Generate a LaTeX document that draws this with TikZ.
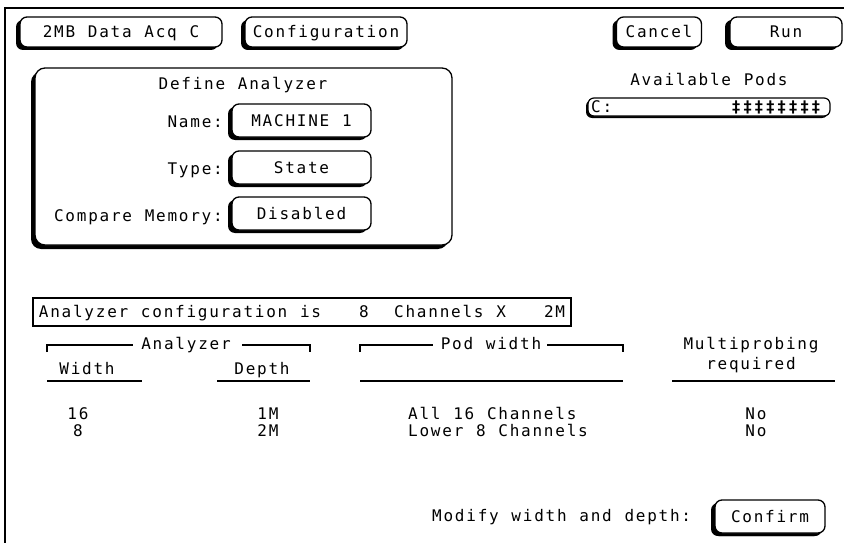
\documentclass[tikz,border=0pt]{standalone}
\usepackage{fontspec}
\usetikzlibrary{shadows}
% terminal-style monospaced face with wide character pitch
\newfontfamily\hpface[LetterSpace=11,WordSpace=1.115]{DejaVu Sans Mono}
\newcommand\hpfont{\hpface\fontsize{16}{19}\selectfont}

\begin{document}
\begin{tikzpicture}[x=1pt,y=-1pt,
  txt/.style={font=\hpfont, inner sep=0pt, anchor=base},
  btn/.style={draw, line width=1.3pt, fill=white, rounded corners=7pt,
    font=\hpfont, inner sep=0pt, text height=11.6pt, text depth=0pt,
    drop shadow={shadow xshift=-4pt, shadow yshift=-3pt, opacity=1, fill=black}},
  panel/.style={draw, line width=1.3pt, fill=white, rounded corners=10pt,
    inner sep=0pt,
    drop shadow={shadow xshift=-4pt, shadow yshift=-4pt, opacity=1, fill=black}},
  rule/.style={line width=1.3pt}
]
\useasboundingbox (0,0) rectangle (844,543);

% screen frame
\coordinate (fTL) at (5,8);
\coordinate (fTR) at (844,8);
\coordinate (fBL) at (5,543);
\draw[line width=1.5pt] (fTR) -- (fTL) -- (fBL);

% top row buttons
\node[btn, minimum width=202pt, minimum height=30pt] (acq) at (121,32) {2MB Data Acq C};
\node[btn, minimum width=162pt, minimum height=30pt,
      drop shadow={shadow xshift=-3pt, shadow yshift=-3pt, opacity=1, fill=black}] (cfg) at (326,32) {Configuration};
\node[btn, minimum width=85pt, minimum height=30pt] (cancel) at (659,32) {Cancel};
\node[btn, minimum width=112pt, minimum height=30pt,
      drop shadow={shadow xshift=-5pt, shadow yshift=-3pt, opacity=1, fill=black}] (run) at (786,32) {Run};

% available pods
\node[txt] (podsT) at (709,86) {Available Pods};
\node[draw, line width=1.2pt, fill=white, rounded corners=6pt, inner sep=0pt,
      minimum width=242pt, minimum height=18pt,
      drop shadow={shadow xshift=-2pt, shadow yshift=-2pt, opacity=1, fill=black}] (podbar) at (709,107) {};
\node[txt, anchor=base west] (podC) at (591,112.5) {C:};
\node[txt, anchor=base east, font=\hpfont\bfseries] (podA) at (821,112.5) {‡‡‡‡‡‡‡‡};

% define analyzer panel
\node[panel, minimum width=417pt, minimum height=177pt] (def) at (243.5,156.5) {};
\node[txt] (defT) at (243,90) {Define Analyzer};
\node[txt, anchor=base east] (nameL) at (223,128) {Name:};
\node[txt, anchor=base east] (typeL) at (223,174) {Type:};
\node[txt, anchor=base east] (cmpL) at (223,221) {Compare Memory:};
\node[btn, minimum width=139pt, minimum height=33pt] (nameB) at (301.5,120.5) {MACHINE 1};
\node[btn, minimum width=139pt, minimum height=33pt] (typeB) at (301.5,167.5) {State};
\node[btn, minimum width=139pt, minimum height=33pt] (cmpB) at (301.5,213.5) {Disabled};

% configuration summary
\node[draw, line width=2.6pt, inner xsep=6pt, inner ysep=0pt,
      minimum width=536pt, minimum height=28pt, font=\hpfont,
      text height=11.6pt, text depth=0pt] (cfgbox) at (302,312)
  {Analyzer configuration is~~~8~~Channels X~~~2M};

% table headings
\node[txt] (hAn) at (186,349) {Analyzer};
\draw[rule] (47,352) -- (47,345) -- (133,345);
\draw[rule] (242,345) -- (310,345) -- (310,352);
\node[txt] (hW) at (87,374) {Width};
\node[txt] (hD) at (262,374) {Depth};
\draw[rule] (47,381) -- (142,381);
\draw[rule] (217,381) -- (310,381);

\node[txt] (hPod) at (491,349) {Pod width};
\draw[rule] (360,352) -- (360,345) -- (433,345);
\draw[rule] (547,345) -- (623,345) -- (623,352);
\draw[rule] (360,381) -- (623,381);

\node[txt] (hM1) at (751,349) {Multiprobing};
\node[txt] (hM2) at (751,369) {required};
\draw[rule] (672,381) -- (835,381);

% table rows
\node[txt] (r1w) at (78,419) {16};
\node[txt] (r1d) at (268,419) {1M};
\node[txt, anchor=base west] (r1p) at (408,419) {All 16 Channels};
\node[txt] (r1m) at (756,419) {No};
\node[txt] (r2w) at (78,436) {8};
\node[txt] (r2d) at (268,436) {2M};
\node[txt, anchor=base west] (r2p) at (408,436) {Lower 8 Channels};
\node[txt] (r2m) at (756,436) {No};

% confirm
\node[txt, anchor=base west] (modL) at (432,521) {Modify width and depth:};
\node[btn, minimum width=110pt, minimum height=33pt,
      drop shadow={shadow xshift=-3pt, shadow yshift=-3pt, opacity=1, fill=black}] (confirm) at (770,516.5) {Confirm};
\end{tikzpicture}
\end{document}
